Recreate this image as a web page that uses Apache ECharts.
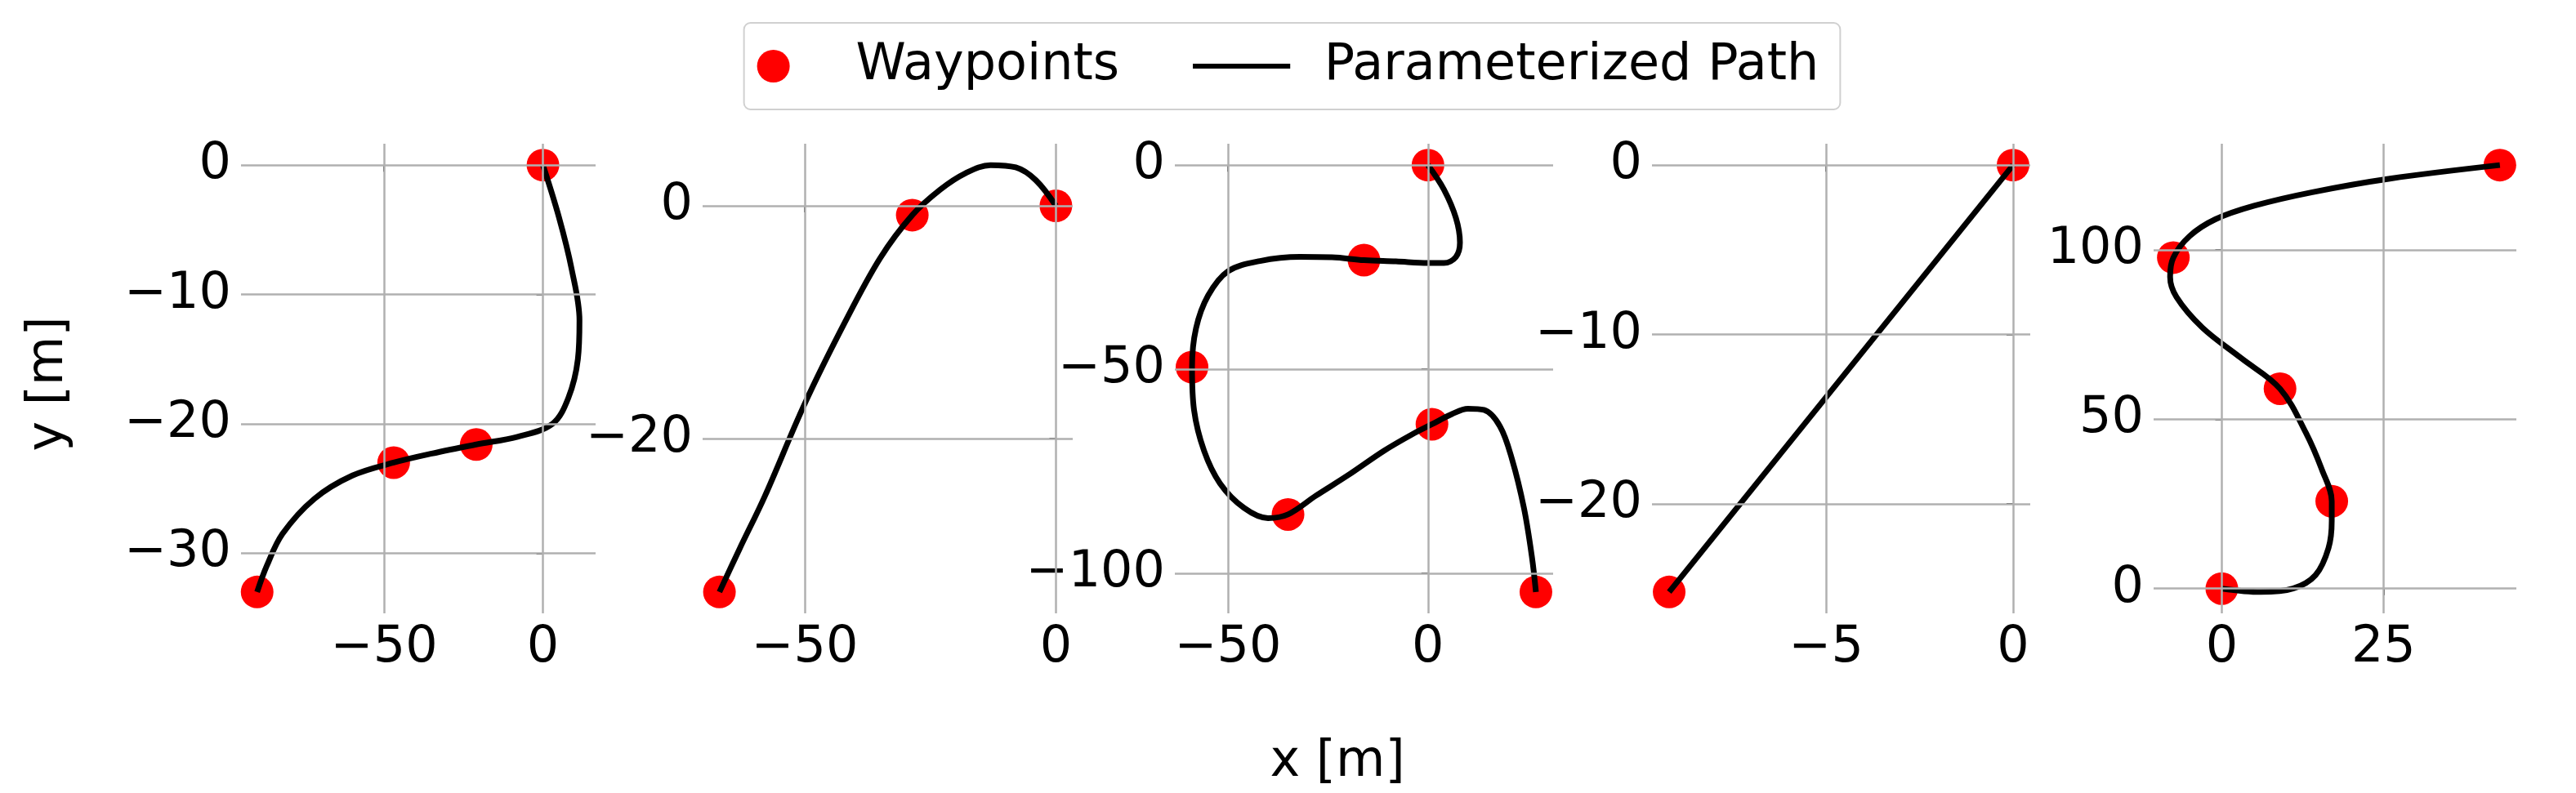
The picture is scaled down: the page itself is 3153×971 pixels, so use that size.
<!DOCTYPE html>
<html>
<head>
<meta charset="utf-8">
<title>paths</title>
<style>
  *{margin:0;padding:0;}
  body{background:#fff;}
  #chart{width:3153px;height:971px;}
</style>
</head>
<body>
<div id="chart"></div>
<script src="https://cdn.jsdelivr.net/npm/echarts@6/dist/echarts.min.js"></script>
<script>
// waypoints per panel
var wp1 = [[0,0],[-21,-21.6],[-47,-23],[-90,-33]];
var wp2 = [[0,0],[-28.6,-0.8],[-67,-33.2]];
var wp3 = [[0,0],[-16,-23.3],[-59,-49.5],[-35,-85.6],[1,-63.5],[27,-104.6]];
var wp4 = [[0,0],[-9.2,-25.2]];
var wp5 = [[0,0],[17,25.8],[9,59],[-7.5,97.7],[43,125]];

// path points
var path1 = [[0,0],[5,-4],[9,-8],[11.5,-12],[11,-15],[8,-18],[3,-20],[-8,-21],[-21,-21.6],[-35,-22.3],[-47,-23],[-60,-24],[-72,-25.8],[-82,-28.5],[-87,-31],[-90,-33]];
var path2 = [[0,0],[-4,2.2],[-8,3.3],[-13,3.5],[-18,2.8],[-23,1.4],[-28.6,-0.8],[-35,-4.5],[-42,-10],[-50,-17],[-58,-25],[-63,-29.5],[-67,-33.2]];
var path3 = [[0,0],[4,-6],[7,-13],[8,-19],[7,-22.5],[4,-24],[0,-24],[-8,-23.6],[-16,-23.3],[-24,-22.6],[-32,-22.5],[-42,-23.5],[-50,-26],[-55,-32],[-58,-40],[-59,-49.5],[-58.5,-60],[-56,-70],[-52,-78],[-46,-84],[-40,-86.5],[-35,-85.6],[-28,-81],[-20,-76],[-11,-70],[-4,-66],[1,-63.5],[6,-61],[10,-59.7],[14,-60],[18,-64],[21,-72],[24,-84],[26,-96],[27,-104.6]];
var path4 = [[0,0],[-9.2,-25.2]];
var path5 = [[0,0],[6,-1],[11,0],[14.5,4],[16.5,12],[17,20],[17,25.8],[15.5,35],[13,46],[9,59],[3,68],[-3,77],[-7,86],[-8,92],[-7.5,97.7],[-5,104],[-1,109],[5,113],[14,117],[26,121],[43,125]];

var xTicks = [[-50,0],[-50,0],[-50,0],[-5,0],[0,25]];
var yTicks = [[0,-10,-20,-30],[0,-20],[0,-50,-100],[0,-10,-20],[0,50,100]];

var waypoints = [wp1,wp2,wp3,wp4,wp5];
var paths = [path1,path2,path3,path4,path5];
var grids = [[295,729],[860,1313],[1438,1901],[2022,2485],[2636,3080]];

var font = 'DejaVu Sans';
var fs = 62;
function fmt(v){ return v < 0 ? '\u2212' + (-v) : String(v); }
function ext(pts, i){
  var vals = pts.map(function(p){return p[i];});
  var lo = Math.min.apply(null, vals), hi = Math.max.apply(null, vals);
  var m = (hi - lo) * 0.05;
  return [lo - m, hi + m];
}

var option = {
  animation: false,
  backgroundColor: '#fff',
  legend: {
    data: [
      {name: 'Waypoints', icon: 'circle'},
      {name: 'Parameterized Path', icon: 'path://M0,0H1M0,20H140V27H0ZM0,47H1'}
    ],
    top: 28, left: 'center',
    padding: [22, 26, 22, 16],
    borderColor: '#d0d0d0', borderWidth: 2, borderRadius: 8,
    itemWidth: 140, itemHeight: 40, itemGap: 90,
    textStyle: {fontFamily: font, fontSize: fs, color: '#000', padding: [0, 0, 0, 26]}
  },
  title: [
    {text: 'x [m]', left: 1632, top: 898, textAlign: 'center',
     textStyle: {fontFamily: font, fontSize: fs, fontWeight: 'normal', color: '#000'}}
  ],
  graphic: [{
    type: 'text', x: 60, y: 470, rotation: Math.PI / 2,
    style: {text: 'y [m]', font: fs + 'px "DejaVu Sans"', fill: '#000', align: 'center', verticalAlign: 'middle'}
  }],
  grid: [], xAxis: [], yAxis: [], series: []
};

for (var i = 0; i < 5; i++) {
  var all = waypoints[i].concat(paths[i]);
  var xe = ext(all, 0), ye = ext(all, 1);
  option.grid.push({left: grids[i][0], width: grids[i][1] - grids[i][0], top: 176, height: 575});
  var axLabel = {fontFamily: font, fontSize: fs, color: '#000', margin: 12, formatter: fmt};
  option.xAxis.push({
    type: 'value', gridIndex: i, min: xe[0], max: xe[1],
    axisLine: {show: false}, splitLine: {show: false},
    axisTick: {show: true, length: 8, lineStyle: {color: '#000', width: 2}, customValues: xTicks[i]},
    axisLabel: Object.assign({customValues: xTicks[i]}, axLabel)
  });
  option.yAxis.push({
    type: 'value', gridIndex: i, min: ye[0], max: ye[1],
    axisLine: {show: false}, splitLine: {show: false},
    axisTick: {show: true, length: 8, lineStyle: {color: '#000', width: 2}, customValues: yTicks[i]},
    axisLabel: Object.assign({customValues: yTicks[i]}, axLabel)
  });
  var gl = xTicks[i].map(function(v){return {xAxis: v};})
    .concat(yTicks[i].map(function(v){return {yAxis: v};}));
  option.series.push({
    type: 'line', xAxisIndex: i, yAxisIndex: i, data: [], showSymbol: false, z: 1,
    markLine: {silent: true, symbol: 'none', label: {show: false}, animation: false,
      lineStyle: {color: '#b0b0b0', width: 2.5, type: 'solid'}, data: gl}
  });
  option.series.push({
    name: 'Waypoints', type: 'scatter', xAxisIndex: i, yAxisIndex: i,
    data: waypoints[i], symbolSize: 40, clip: false, z: 2,
    itemStyle: {color: '#ff0000', opacity: 1}
  });
  option.series.push({
    name: 'Parameterized Path', type: 'line', xAxisIndex: i, yAxisIndex: i,
    data: paths[i], smooth: 0.35, showSymbol: false, clip: false, z: 3,
    lineStyle: {color: '#000', width: 7}, itemStyle: {color: '#000'}
  });
}

var chart = echarts.init(document.getElementById('chart'));
chart.setOption(option);
</script>
</body>
</html>
